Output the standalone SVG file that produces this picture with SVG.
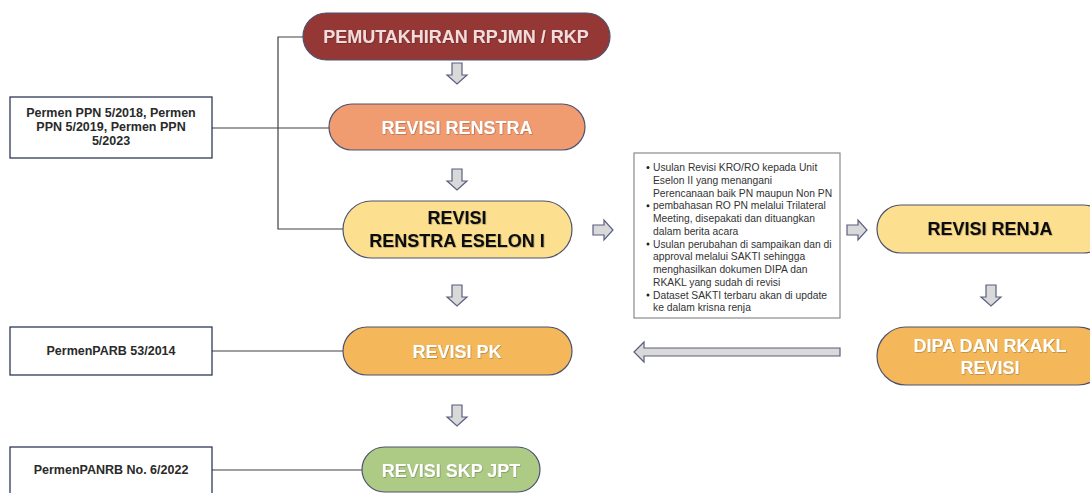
<svg xmlns="http://www.w3.org/2000/svg" width="1090" height="493" viewBox="0 0 1090 493">
  <style>
    .pill { stroke: #4d5270; stroke-width: 1.2; }
    .ref { fill: #ffffff; stroke: #1f2848; stroke-width: 1.2; }
    .note { fill: #ffffff; stroke: #8a8a8a; stroke-width: 1.2; }
    .link { fill: none; stroke: #404040; stroke-width: 1.2; }
    .barrow { fill: #d9d9d9; stroke: #5a5f80; stroke-width: 1.2; stroke-linejoin: miter; }
    .title { font-family: "Liberation Sans", Arial, sans-serif; font-weight: bold; font-size: 18px; text-anchor: middle; }
    .light { fill: #ffffff; }
    .dark { fill: #111111; }
    .cream { fill: #f2dcdb; }
    .reftxt { font-family: "Liberation Sans", Arial, sans-serif; font-weight: bold; font-size: 12.5px; fill: #2a2a2a; text-anchor: middle; }
    .notetxt { font-family: "Liberation Sans", Arial, sans-serif; font-size: 10.3px; fill: #333333; }
  </style>
  <defs>
    <path id="arrowDown" d="M -5,0 h 10 v 12 h 5 l -10,9 l -10,-9 h 5 z"/>
    <path id="arrowRight" d="M 0,-5 h 11 v -5 l 9,10 l -9,10 v -5 h -11 z"/>
    <filter id="soft" x="-5%" y="-20%" width="110%" height="140%">
      <feDropShadow dx="0.6" dy="0.6" stdDeviation="0.4" flood-color="#000000" flood-opacity="0.35"/>
    </filter>
  </defs>

  <!-- connectors: thin reference lines and block arrows -->
  <g id="connectors">
    <polyline class="link" points="303,37 278,37 278,229 343,229"/>
    <line class="link" x1="212" y1="128" x2="330" y2="128"/>
    <line class="link" x1="212" y1="351" x2="343" y2="351"/>
    <line class="link" x1="212" y1="470" x2="362" y2="470"/>

    <use href="#arrowDown" class="barrow" x="457" y="63"/>
    <use href="#arrowDown" class="barrow" x="457" y="169"/>
    <use href="#arrowDown" class="barrow" x="457" y="285"/>
    <use href="#arrowDown" class="barrow" x="457" y="405"/>
    <use href="#arrowDown" class="barrow" x="991" y="285"/>
    <use href="#arrowRight" class="barrow" x="593" y="230"/>
    <use href="#arrowRight" class="barrow" x="847" y="230"/>
    <path class="barrow" d="M 634,352 L 644,342 V 348 H 840 V 356 H 644 V 362 Z"/>
  </g>

  <g id="node-pemutakhiran">
    <rect class="pill" x="303" y="13" width="307" height="47" rx="23.5" fill="#953735"/>
    <text class="title cream" x="456" y="43" filter="url(#soft)">PEMUTAKHIRAN RPJMN / RKP</text>
  </g>

  <g id="node-renstra">
    <rect class="pill" x="329" y="104" width="256" height="46" rx="23" fill="#f09b70"/>
    <text class="title light" x="457" y="134" filter="url(#soft)">REVISI RENSTRA</text>
  </g>

  <g id="node-renstra-eselon">
    <rect class="pill" x="343" y="201" width="229" height="57" rx="28.5" fill="#fce08f"/>
    <text class="title dark" x="457" y="224" filter="url(#soft)">REVISI</text>
    <text class="title dark" x="457" y="247" filter="url(#soft)">RENSTRA ESELON I</text>
  </g>

  <g id="node-pk">
    <rect class="pill" x="343" y="327" width="229" height="48" rx="24" fill="#f4b85a"/>
    <text class="title light" x="457" y="358" filter="url(#soft)">REVISI PK</text>
  </g>

  <g id="node-skp">
    <rect class="pill" x="362" y="447" width="178" height="45" rx="22.5" fill="#aecb86"/>
    <text class="title light" x="451" y="477" filter="url(#soft)">REVISI SKP JPT</text>
  </g>

  <g id="node-renja">
    <rect class="pill" x="877" y="205" width="230" height="48" rx="24" fill="#fce08f"/>
    <text class="title dark" x="990" y="235" filter="url(#soft)">REVISI RENJA</text>
  </g>

  <g id="node-dipa">
    <rect class="pill" x="877" y="327" width="230" height="58" rx="29" fill="#f4b85a"/>
    <text class="title light" x="990" y="352" filter="url(#soft)">DIPA DAN RKAKL</text>
    <text class="title light" x="990" y="374" filter="url(#soft)">REVISI</text>
  </g>

  <g id="ref-permen-ppn">
    <rect class="ref" x="10" y="97" width="202" height="61"/>
    <text class="reftxt" x="111" y="117">Permen PPN 5/2018, Permen</text>
    <text class="reftxt" x="111" y="131">PPN 5/2019, Permen PPN</text>
    <text class="reftxt" x="111" y="145">5/2023</text>
  </g>

  <g id="ref-permenparb">
    <rect class="ref" x="10" y="327" width="202" height="48"/>
    <text class="reftxt" x="111" y="355">PermenPARB 53/2014</text>
  </g>

  <g id="ref-permenpanrb">
    <rect class="ref" x="10" y="447" width="202" height="60"/>
    <text class="reftxt" x="111" y="474">PermenPANRB No. 6/2022</text>
  </g>

  <g id="note-steps">
    <rect class="note" x="634" y="153" width="206" height="165"/>
    <g fill="#222222">
      <circle cx="648" cy="167.5" r="1.5"/>
      <circle cx="648" cy="205.8" r="1.5"/>
      <circle cx="648" cy="244" r="1.5"/>
      <circle cx="648" cy="295" r="1.5"/>
    </g>
    <text class="notetxt" x="653" y="171">Usulan Revisi KRO/RO kepada Unit</text>
    <text class="notetxt" x="653" y="183.75">Eselon II yang menangani</text>
    <text class="notetxt" x="653" y="196.5">Perencanaan baik PN maupun Non PN</text>
    <text class="notetxt" x="653" y="209.25">pembahasan RO PN melalui Trilateral</text>
    <text class="notetxt" x="653" y="222">Meeting, disepakati dan dituangkan</text>
    <text class="notetxt" x="653" y="234.75">dalam berita acara</text>
    <text class="notetxt" x="653" y="247.5">Usulan perubahan di sampaikan dan di</text>
    <text class="notetxt" x="653" y="260.25">approval melalui SAKTI sehingga</text>
    <text class="notetxt" x="653" y="273">menghasilkan dokumen DIPA dan</text>
    <text class="notetxt" x="653" y="285.75">RKAKL yang sudah di revisi</text>
    <text class="notetxt" x="653" y="298.5">Dataset SAKTI terbaru akan di update</text>
    <text class="notetxt" x="653" y="311.25">ke dalam krisna renja</text>
  </g>
</svg>
